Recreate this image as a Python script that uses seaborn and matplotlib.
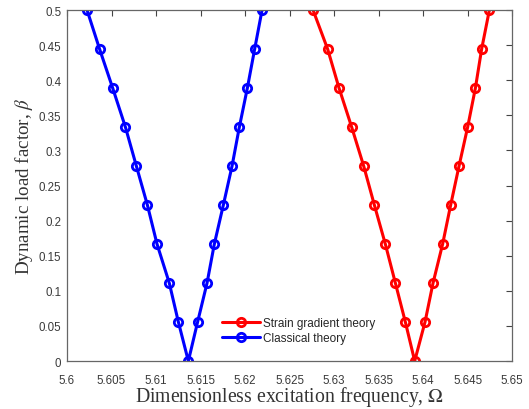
import numpy as np
import pandas as pd
import matplotlib
matplotlib.use("Agg")
import matplotlib.pyplot as plt
import seaborn as sns

beta = [0.5, 0.4444, 0.3889, 0.3333, 0.2778, 0.2222, 0.1667, 0.1111, 0.0556, 0.0,
        0.0556, 0.1111, 0.1667, 0.2222, 0.2778, 0.3333, 0.3889, 0.4444, 0.5]
omega_strain = [5.62764, 5.62928, 5.63056, 5.63198, 5.63333, 5.63453, 5.63576, 5.63689, 5.63801, 5.63906,
                5.64022, 5.64112, 5.64220, 5.64310, 5.64404, 5.64501, 5.64588, 5.64658, 5.64745]
omega_classical = [5.60225, 5.60366, 5.60513, 5.60656, 5.60779, 5.60903, 5.61011, 5.61149, 5.61251, 5.61363,
                   5.61467, 5.61573, 5.61655, 5.61756, 5.61854, 5.61936, 5.62026, 5.62108, 5.62191]
series = ["Strain gradient theory", "Classical theory"]
xticks = [5.6, 5.605, 5.61, 5.615, 5.62, 5.625, 5.63, 5.635, 5.64, 5.645, 5.65]
xticklabels = ["5.6", "5.605", "5.61", "5.615", "5.62", "5.625", "5.63", "5.635", "5.64", "5.645", "5.65"]
yticks = [0, 0.05, 0.1, 0.15, 0.2, 0.25, 0.3, 0.35, 0.4, 0.45, 0.5]
yticklabels = ["0", "0.05", "0.1", "0.15", "0.2", "0.25", "0.3", "0.35", "0.4", "0.45", "0.5"]

df = pd.concat([
    pd.DataFrame({"Omega": omega_strain, "beta": beta, "theory": series[0]}),
    pd.DataFrame({"Omega": omega_classical, "beta": beta, "theory": series[1]}),
], ignore_index=True)

sns.set_style("white")
plt.rcParams["mathtext.fontset"] = "stix"

fig = plt.figure(figsize=(5.29, 4.10), dpi=100)
ax = fig.add_axes([0.1267, 0.117, 0.8413, 0.856])

sns.lineplot(data=df, x="Omega", y="beta", hue="theory", sort=False,
             palette={series[0]: "#ff0000", series[1]: "#0000ff"},
             marker="o", markersize=6, markerfacecolor="none", markeredgewidth=2,
             linewidth=2.2, ax=ax, estimator=None, units="theory", legend=True)

for line in ax.lines:
    line.set_markeredgecolor(line.get_color())

ax.set_xlim(5.6, 5.65)
ax.set_ylim(0, 0.5)
ax.set_xticks(xticks)
ax.set_xticklabels(xticklabels)
ax.set_yticks(yticks)
ax.set_yticklabels(yticklabels)
ax.tick_params(direction="in", top=True, right=True, length=4, width=0.8,
               colors="#444444", labelsize=8.3, labelcolor="#3a3a3a")
ax.tick_params(axis="x", pad=9)
ax.tick_params(axis="y", pad=4)
for lab in ax.get_xticklabels() + ax.get_yticklabels():
    lab.set_family("Liberation Sans")
for s in ax.spines.values():
    s.set_color("#666666")
    s.set_linewidth(0.9)

ax.set_xlabel(r"Dimensionless excitation frequency, $\Omega$", family="Liberation Serif",
              fontsize=14.2, color="#333333", labelpad=-1)
ax.set_ylabel(r"Dynamic load factor, $\beta$", family="Liberation Serif",
              fontsize=13.7, color="#333333", labelpad=3)

leg = ax.legend(loc="lower left", bbox_to_anchor=(0.33, 0.025), frameon=False,
                prop={"family": "Liberation Sans", "size": 8.5},
                handlelength=3.2, handletextpad=0.3, labelspacing=0.25, borderpad=0.2)
for h in leg.legend_handles:
    h.set_markerfacecolor("none")
    h.set_markeredgecolor(h.get_color())

fig.savefig("out.png", dpi=100, facecolor="white")
